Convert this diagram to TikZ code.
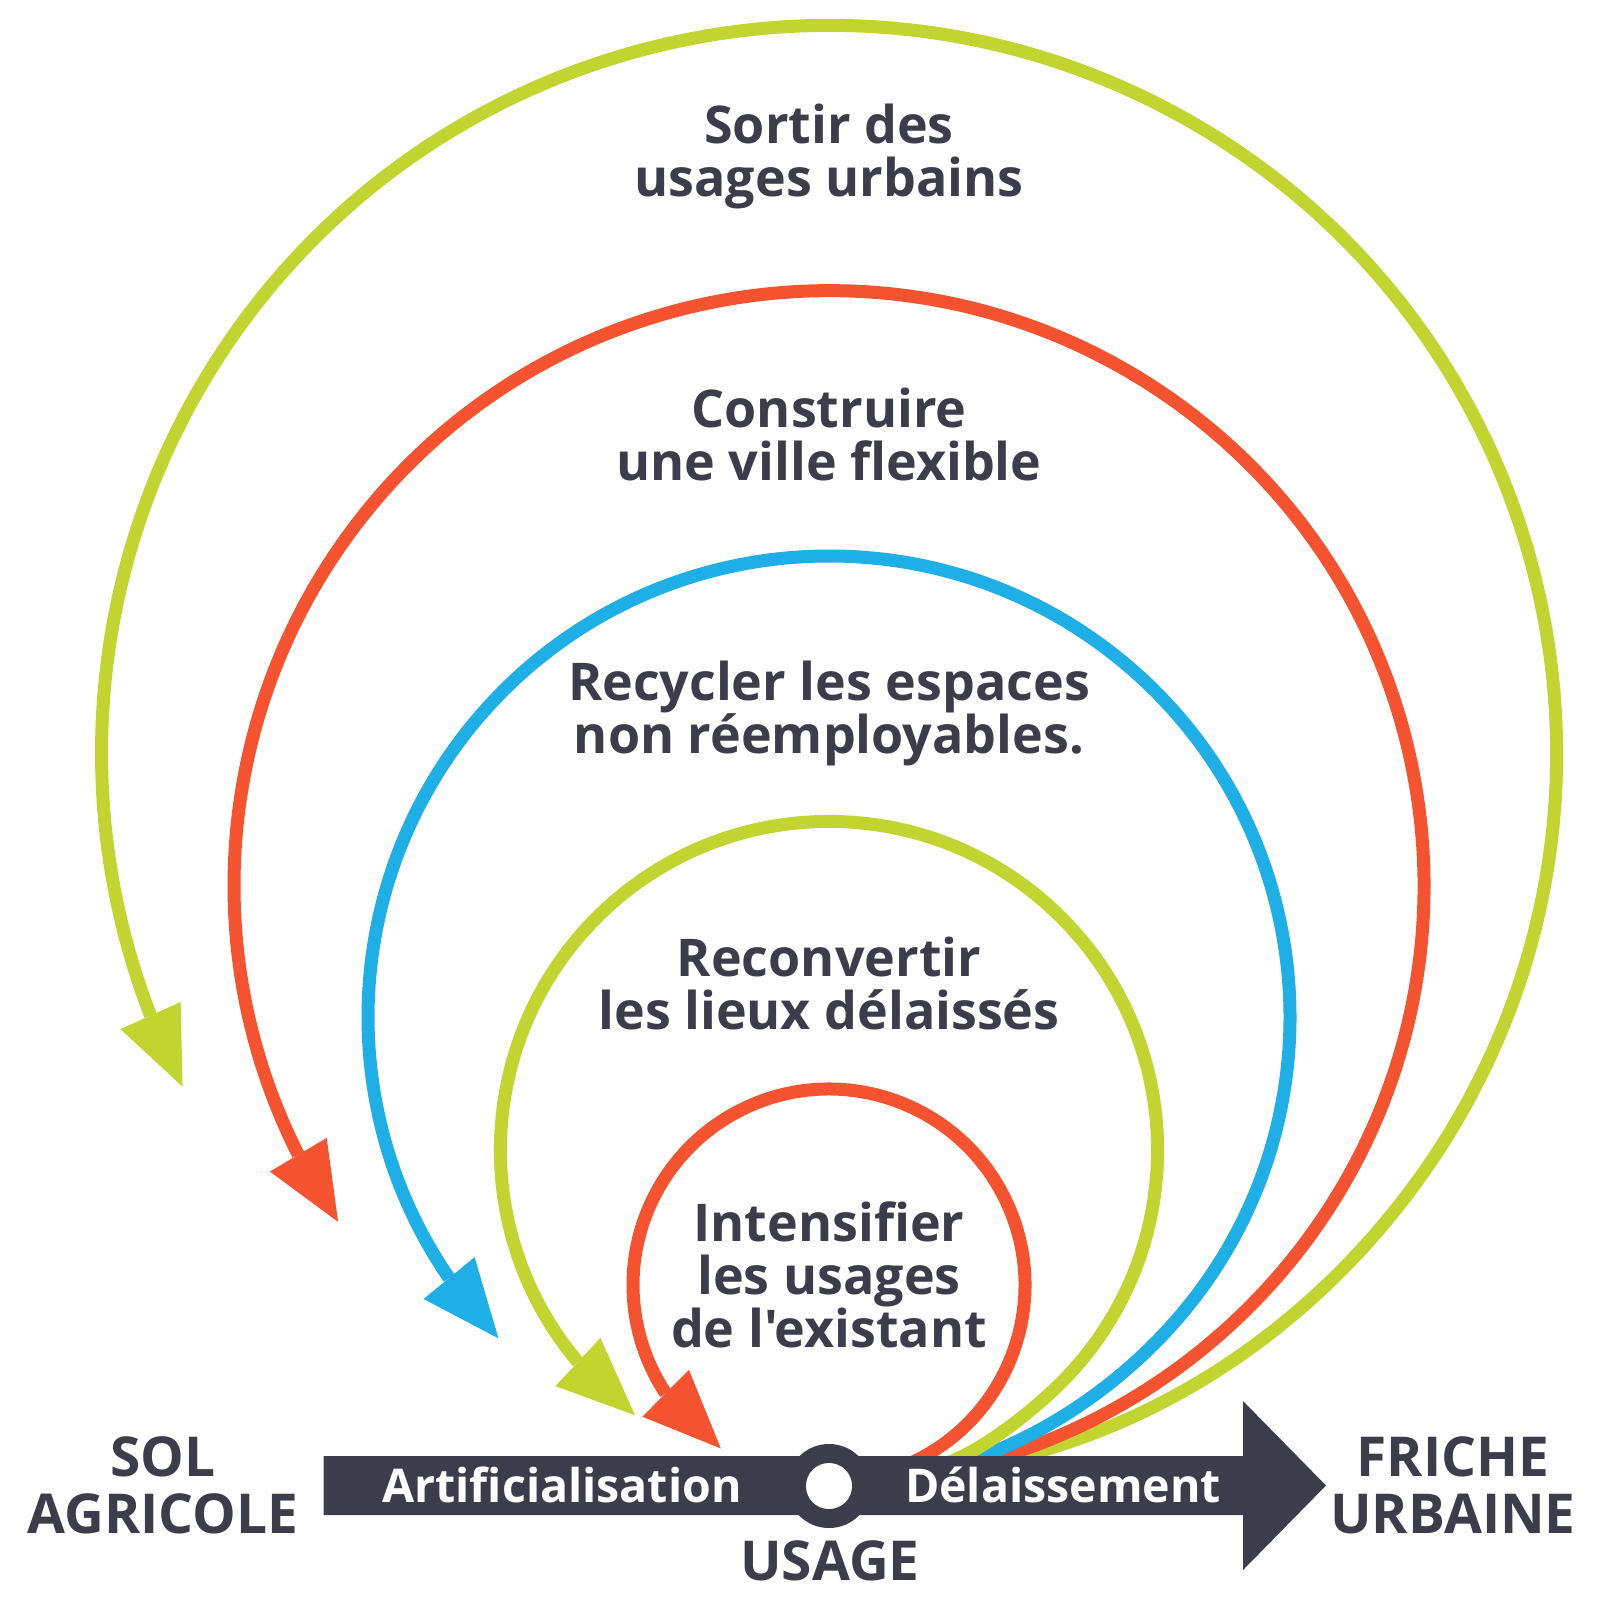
\documentclass[tikz,border=0pt]{standalone}
\usepackage{fontspec}
\setmainfont{Open Sans}[Ligatures=TeXOff]
\usetikzlibrary{calc}
\definecolor{cgreen}{HTML}{C2D42F}
\definecolor{cred}{HTML}{F5532F}
\definecolor{cblue}{HTML}{1DAFE5}
\definecolor{cdark}{HTML}{3D3C4A}
\tikzset{
  lbl/.style={text=cdark, font=\bfseries\fontsize{52}{53}\selectfont, align=center, anchor=base, inner sep=0pt},
  endlbl/.style={text=cdark, font=\bfseries\fontsize{55}{56.5}\selectfont, align=center, anchor=base, inner sep=0pt},
  barlbl/.style={text=white, font=\bfseries\fontsize{46.5}{48}\selectfont, anchor=base, inner sep=0pt},
  ring/.style={line width=13pt}
}
% plain circular ring: #1 colour, #2 centre y, #3 radius, #4 tip angle (image coordinates)
\newcommand{\ringarrow}[4]{%
  \pgfmathsetmacro\rgStart{asin((1462-#2)/#3)}%
  \pgfmathsetmacro\rgDelta{2*asin(39/#3)}%
  \pgfmathsetmacro\rgBack{#4+\rgDelta}%
  \draw[ring,#1] (829,#2) ++(\rgStart:#3) arc[start angle=\rgStart, end angle=\rgBack, radius=#3];
  \coordinate (rgT) at ($(829,#2)+(#4:#3)$);
  \coordinate (rgB) at ($(829,#2)+(\rgBack:#3)$);
  \fill[#1] (rgT) -- ($(rgB)!33pt!90:(rgT)$) -- ($(rgB)!33pt!-90:(rgT)$) -- cycle;
}
% ring whose foot is a smooth curve rising from the bar:
% #5 start x, #6 start slope angle, #7 joining angle, #8 #9 control lengths
\newcommand{\ringarrowS}[9]{%
  \pgfmathsetmacro\rgDelta{2*asin(39/#3)}%
  \pgfmathsetmacro\rgBack{#4+\rgDelta}%
  \coordinate (rgS) at (#5,1463);
  \coordinate (rgP) at ($(829,#2)+(#7:#3)$);
  \draw[ring,#1] (rgS) .. controls ($(rgS)+(-#6:#8)$) and ($(rgP)+(#7+90:#9)$) .. (rgP)
     arc[start angle=#7, end angle=\rgBack, radius=#3];
  \coordinate (rgT) at ($(829,#2)+(#4:#3)$);
  \coordinate (rgB) at ($(829,#2)+(\rgBack:#3)$);
  \fill[#1] (rgT) -- ($(rgB)!33pt!90:(rgT)$) -- ($(rgB)!33pt!-90:(rgT)$) -- cycle;
}
\begin{document}
\begin{tikzpicture}[x=1pt,y=-1pt]
\useasboundingbox (0,0) rectangle (1600,1600);
\fill[white] (0,0) rectangle (1600,1600);

% rings, outer first
\ringarrowS{cgreen}{753}{727.5}{-207.3}{993}{12}{30}{220}{180}
\ringarrowS{cred}{885.7}{595}{-214.4}{980}{15}{35}{150}{131}
\ringarrowS{cblue}{1017}{461}{-224.2}{963}{18}{40}{95}{81}
\ringarrowS{cgreen}{1150}{328.6}{-233.8}{947}{20}{45}{40}{39}
\ringarrow{cred}{1285}{196}{-236.5}

% timeline arrow
\fill[cdark] (323.5,1456) -- (1243,1456) -- (1243,1401) -- (1326,1485.5)
  -- (1243,1570) -- (1243,1515) -- (323.5,1515) -- cycle;
\fill[cdark] (829,1486) circle[radius=42];
\fill[white] (829,1486) circle[radius=23];

% labels (anchor = baseline of the last line)
\node[lbl] (t1) at (829,196) {Sortir des\\usages urbains};
\node[lbl] (t2) at (829,480) {Construire\\une ville flexible};
\node[lbl] (t3) at (829,753) {Recycler les espaces\\non réemployables.};
\node[lbl] (t4) at (829,1029) {Reconvertir\\les lieux délaissés};
\node[lbl] (t5) at (829,1347) {Intensifier\\les usages\\de l'existant};

\node[endlbl] (sol) at (163,1533) {SOL\\AGRICOLE};
\node[endlbl] (friche) at (1453,1533) {FRICHE\\URBAINE};
\node[endlbl] (usage) at (830,1580) {USAGE};

\node[barlbl] (art) at (562,1502) {Artificialisation};
\node[barlbl] (del) at (1063,1502) {Délaissement};
\end{tikzpicture}
\end{document}
